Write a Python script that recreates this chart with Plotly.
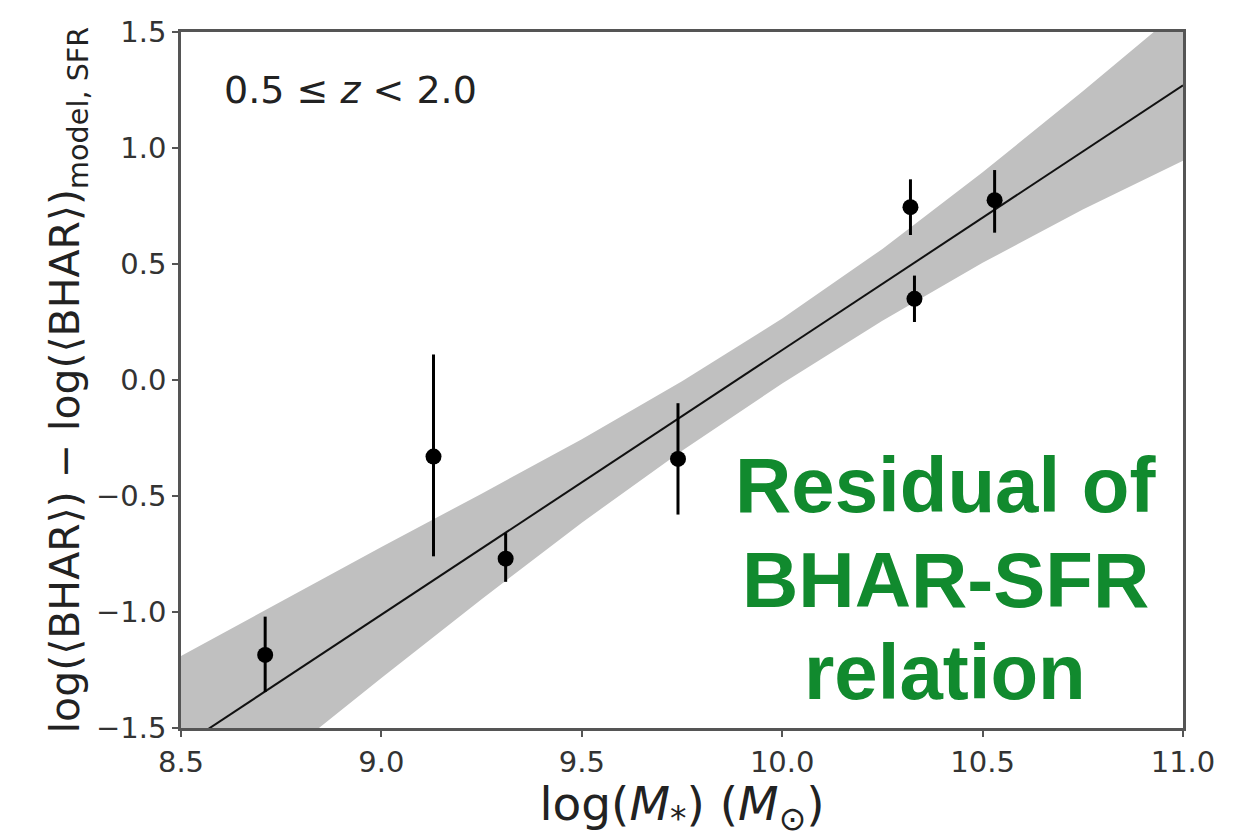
import plotly.graph_objects as go

# Data points (log stellar mass, residual, asymmetric error)
mass = [8.71, 9.13, 9.31, 9.74, 10.32, 10.33, 10.53]
resid = [-1.185, -0.33, -0.77, -0.34, 0.745, 0.35, 0.775]
err_up = [0.165, 0.44, 0.11, 0.24, 0.12, 0.10, 0.13]
err_dn = [0.16, 0.43, 0.10, 0.24, 0.12, 0.10, 0.14]

# Best-fit line end points
fit_x = [8.5, 11.0]
fit_y = [-1.582, 1.270]

# Confidence band edges
band_x = [8.5, 8.75, 9.0, 9.25, 9.5, 9.75, 10.0, 10.25, 10.5, 10.75, 11.0]
band_hi = [-1.19, -0.955, -0.72, -0.49, -0.255, -0.005, 0.265, 0.565, 0.895, 1.245, 1.605]
band_lo = [-1.98, -1.63, -1.285, -0.945, -0.615, -0.305, -0.015, 0.255, 0.505, 0.735, 0.945]

x_ticks = [8.5, 9.0, 9.5, 10.0, 10.5, 11.0]
y_ticks = [-1.5, -1.0, -0.5, 0.0, 0.5, 1.0, 1.5]

fig = go.Figure()

fig.add_trace(go.Scatter(x=band_x, y=band_lo, mode="lines", line=dict(width=0, color="#c0c0c0"),
                         showlegend=False, hoverinfo="skip"))
fig.add_trace(go.Scatter(x=band_x, y=band_hi, mode="lines", line=dict(width=0, color="#c0c0c0"),
                         fill="tonexty", fillcolor="#c0c0c0", showlegend=False, hoverinfo="skip"))
fig.add_trace(go.Scatter(x=fit_x, y=fit_y, mode="lines", line=dict(color="#111111", width=2),
                         showlegend=False))
fig.add_trace(go.Scatter(x=mass, y=resid, mode="markers",
                         marker=dict(color="black", size=16),
                         error_y=dict(type="data", symmetric=False, array=err_up, arrayminus=err_dn,
                                      color="black", thickness=3, width=0),
                         showlegend=False))

axis_common = dict(showline=True, linecolor="#555555", linewidth=2.5, mirror=True,
                   ticks="outside", ticklen=6, tickwidth=1.5, tickcolor="#555555",
                   showgrid=False, zeroline=False,
                   tickfont=dict(family="DejaVu Sans", size=29, color="#333333"))

fig.update_xaxes(range=[8.5, 11.0], tickvals=x_ticks, ticktext=[f"{v:.1f}" for v in x_ticks],
                 title=dict(text="log(<i>M</i><sub>*</sub>) (<i>M</i><sub>⊙</sub>)",
                            font=dict(family="DejaVu Sans", size=47, color="#222222"), standoff=5),
                 **axis_common)
fig.update_yaxes(range=[-1.5, 1.5], tickvals=y_ticks,
                 ticktext=[f"{v:.1f}".replace("-", "\u2212") for v in y_ticks],
                 title=dict(text="log(⟨BHAR⟩) − log(⟨BHAR⟩)<sub>model, SFR</sub>",
                            font=dict(family="DejaVu Sans", size=41, color="#222222"), standoff=4),
                 **axis_common)

fig.add_annotation(xref="paper", yref="paper", x=0.041, y=0.917, xanchor="left", yanchor="middle",
                   text="0.5 ≤ <i>z</i> < 2.0", showarrow=False,
                   font=dict(family="DejaVu Sans", size=38, color="#222222"))

green = "#118a2e"
for txt, yp in [("Residual of", 0.349), ("BHAR-SFR", 0.213), ("relation", 0.080)]:
    fig.add_annotation(xref="paper", yref="paper", x=0.7625, y=yp, xanchor="center", yanchor="middle",
                       text=f"<b>{txt}</b>", showarrow=False,
                       font=dict(family="Liberation Sans", size=78, color=green))

fig.update_layout(width=1247, height=838, margin=dict(l=181, r=64, t=32, b=110),
                  plot_bgcolor="white", paper_bgcolor="white")

fig.write_html("out.html")
